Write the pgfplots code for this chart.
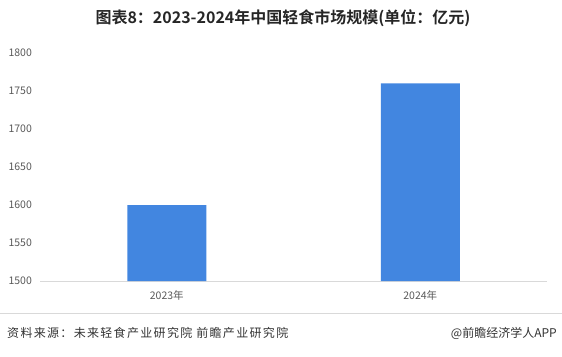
\documentclass[border=0pt]{standalone}
\usepackage{pgfplots}
\pgfplotsset{compat=1.18}
\usepackage{fontspec}
\setmainfont{Noto Sans CJK SC}
\newfontfamily\cjkbold{Noto Sans CJK SC Bold}
\newfontfamily\cjkspaced[LetterSpace=11]{Noto Sans CJK SC}
\definecolor{barblue}{RGB}{66,134,224}
\definecolor{tickgray}{RGB}{89,89,89}
\definecolor{axisgray}{RGB}{217,217,217}
\begin{document}
\begin{tikzpicture}[x=1pt,y=1pt]
\useasboundingbox (0,-356) rectangle (562,0);
\node[font=\cjkbold\fontsize{16}{19}\selectfont, text=black!85] at (283,-18) {图表8：2023-2024年中国轻食市场规模(单位：亿元)};
\begin{axis}[
  at={(40pt,-281pt)}, anchor=south west,
  scale only axis, width=507pt, height=228pt,
  xmin=-0.5, xmax=1.5, ymin=1500, ymax=1800,
  ytick={1500,1550,...,1800},
  xtick=data, xticklabels={2023年,2024年},
  axis x line*=bottom, axis y line=none,
  x axis line style={draw=axisgray, line width=1pt},
  major tick length=0pt,
  xtick style={draw=none},
  xticklabel style={font=\fontsize{10.5}{12}\selectfont, text=tickgray, yshift=-6pt},
  /pgf/number format/assume math mode=true,
  /pgf/number format/set thousands separator={},
  ybar, bar width=79pt,
  clip=false,
]
\addplot[fill=barblue, draw=none] coordinates {(0,1600) (1,1760)};
\end{axis}
\begin{axis}[
  at={(40pt,-281pt)}, anchor=south west,
  scale only axis, width=507pt, height=228pt,
  xmin=-0.5, xmax=1.5, ymin=1500, ymax=1800,
  ytick={1500,1550,...,1800},
  xtick=\empty,
  axis x line=none, axis y line*=left, y axis line style={draw=none},
  major tick length=0pt,
  yticklabel style={font=\fontsize{10.5}{12}\selectfont, text=tickgray, anchor=west, xshift=-35pt},
  /pgf/number format/assume math mode=true,
  /pgf/number format/set thousands separator={},
]
\addplot[draw=none] coordinates {(0,1500)};
\end{axis}
\draw[axisgray, line width=0.8pt] (0,-313) -- (562,-313);
\node[anchor=west, font=\cjkspaced\fontsize{12}{14}\selectfont, text=black!80, inner sep=0pt] at (7,-333) {资料来源：未来轻食产业研究院\ 前瞻产业研究院};
\node[anchor=east, font=\fontsize{12}{14}\selectfont, text=black!80, inner sep=0pt] at (557,-333) {@前瞻经济学人APP};
\end{tikzpicture}
\end{document}
